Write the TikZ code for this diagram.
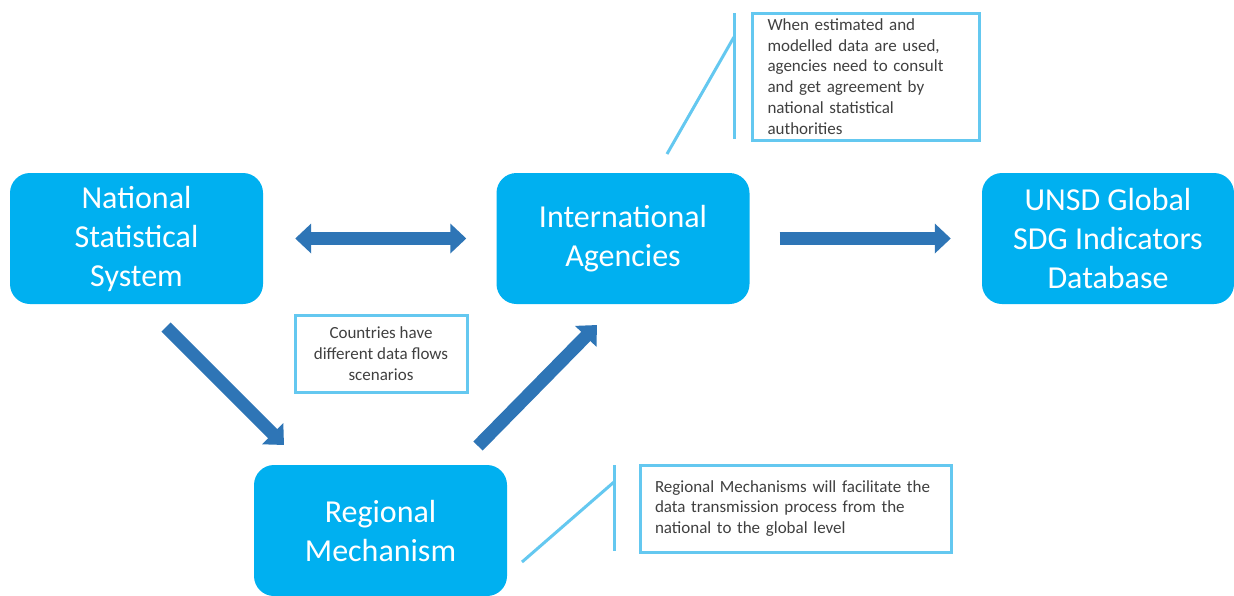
\documentclass[tikz,border=0pt]{standalone}
\usepackage{fontspec}
\setmainfont{Carlito}
\usetikzlibrary{arrows.meta}
\definecolor{boxblue}{RGB}{0,176,240}
\definecolor{arrowblue}{RGB}{46,117,182}
\definecolor{lineblue}{RGB}{100,200,240}
\definecolor{txtgray}{RGB}{64,64,64}
\tikzset{
  mainbox/.style={rounded corners=20pt, fill=boxblue, text=white, minimum width=253pt, minimum height=131pt, align=center, inner sep=0pt, font={\fontsize{32}{39}\selectfont}},
  notebox/.style={draw=lineblue, line width=3pt, fill=white, text=txtgray, inner sep=0pt, font={\fontsize{17}{20.8}\selectfont}},
  bigarrow/.style={draw=arrowblue, line width=13pt, line cap=butt, arrows={-Triangle[width=29pt,length=16pt]}},
  dblarrow/.style={draw=arrowblue, line width=13pt, line cap=butt, arrows={Triangle[width=29pt,length=16pt]-Triangle[width=29pt,length=16pt]}},
  callline/.style={draw=lineblue, line width=3pt}
}
\begin{document}
\begin{tikzpicture}[x=1pt,y=-1pt]
\useasboundingbox (0,0) rectangle (1234,595);
\clip (0,0) rectangle (1234,595);
\fill[white] (0,0) rectangle (1234,595);
% main boxes
\node[mainbox] (nss) at (136.5,238.5) {National\\Statistical\\System};
\node[mainbox] (ia) at (623,238.5) {International\\Agencies};
\node[mainbox, minimum width=252pt] (unsd) at (1108,238.5) {UNSD Global\\SDG Indicators\\Database};
\node[mainbox] (rm) at (380.5,530.5) {Regional\\Mechanism};
% note boxes
\node[notebox, minimum width=227pt, minimum height=127pt, text width=197pt, align=left] (n1) at (866,76.5)
  {When estimated and\\modelled data are used,\\agencies need to consult\\and get agreement by\\national statistical\\authorities};
\node[notebox, minimum width=172pt, minimum height=77pt, align=center] (n2) at (381,353.5)
  {Countries have\\different data flows\\scenarios};
\node[notebox, minimum width=311pt, minimum height=87pt, text width=281pt, align=left] (n3) at (795.5,508.5)
  {Regional Mechanisms will facilitate the\\data transmission process from the\\national to the global level};
% arrows
\draw[dblarrow, shorten <=32pt, shorten >=30pt] (nss.east) -- (ia.west);
\draw[bigarrow, shorten <=30pt, shorten >=31pt] (ia.east) -- (unsd.west);
\coordinate (d1s) at (166,327);
\coordinate (d1e) at (284,445);
\draw[bigarrow] (d1s) -- (d1e);
\coordinate (u1s) at (478,446);
\coordinate (u1e) at (597,325);
\draw[bigarrow] (u1s) -- (u1e);
% callout lines
\coordinate (c1top) at (734,13);
\coordinate (c1bot) at (734,139);
\coordinate (c1knee) at (734,37);
\coordinate (c1end) at (667,154);
\draw[callline] (c1top) -- (c1bot);
\draw[callline] (c1knee) -- (c1end);
\coordinate (c3top) at (614,465);
\coordinate (c3bot) at (614,551);
\coordinate (c3knee) at (614,482);
\coordinate (c3end) at (522,562);
\draw[callline] (c3top) -- (c3bot);
\draw[callline] (c3knee) -- (c3end);
\end{tikzpicture}
\end{document}
